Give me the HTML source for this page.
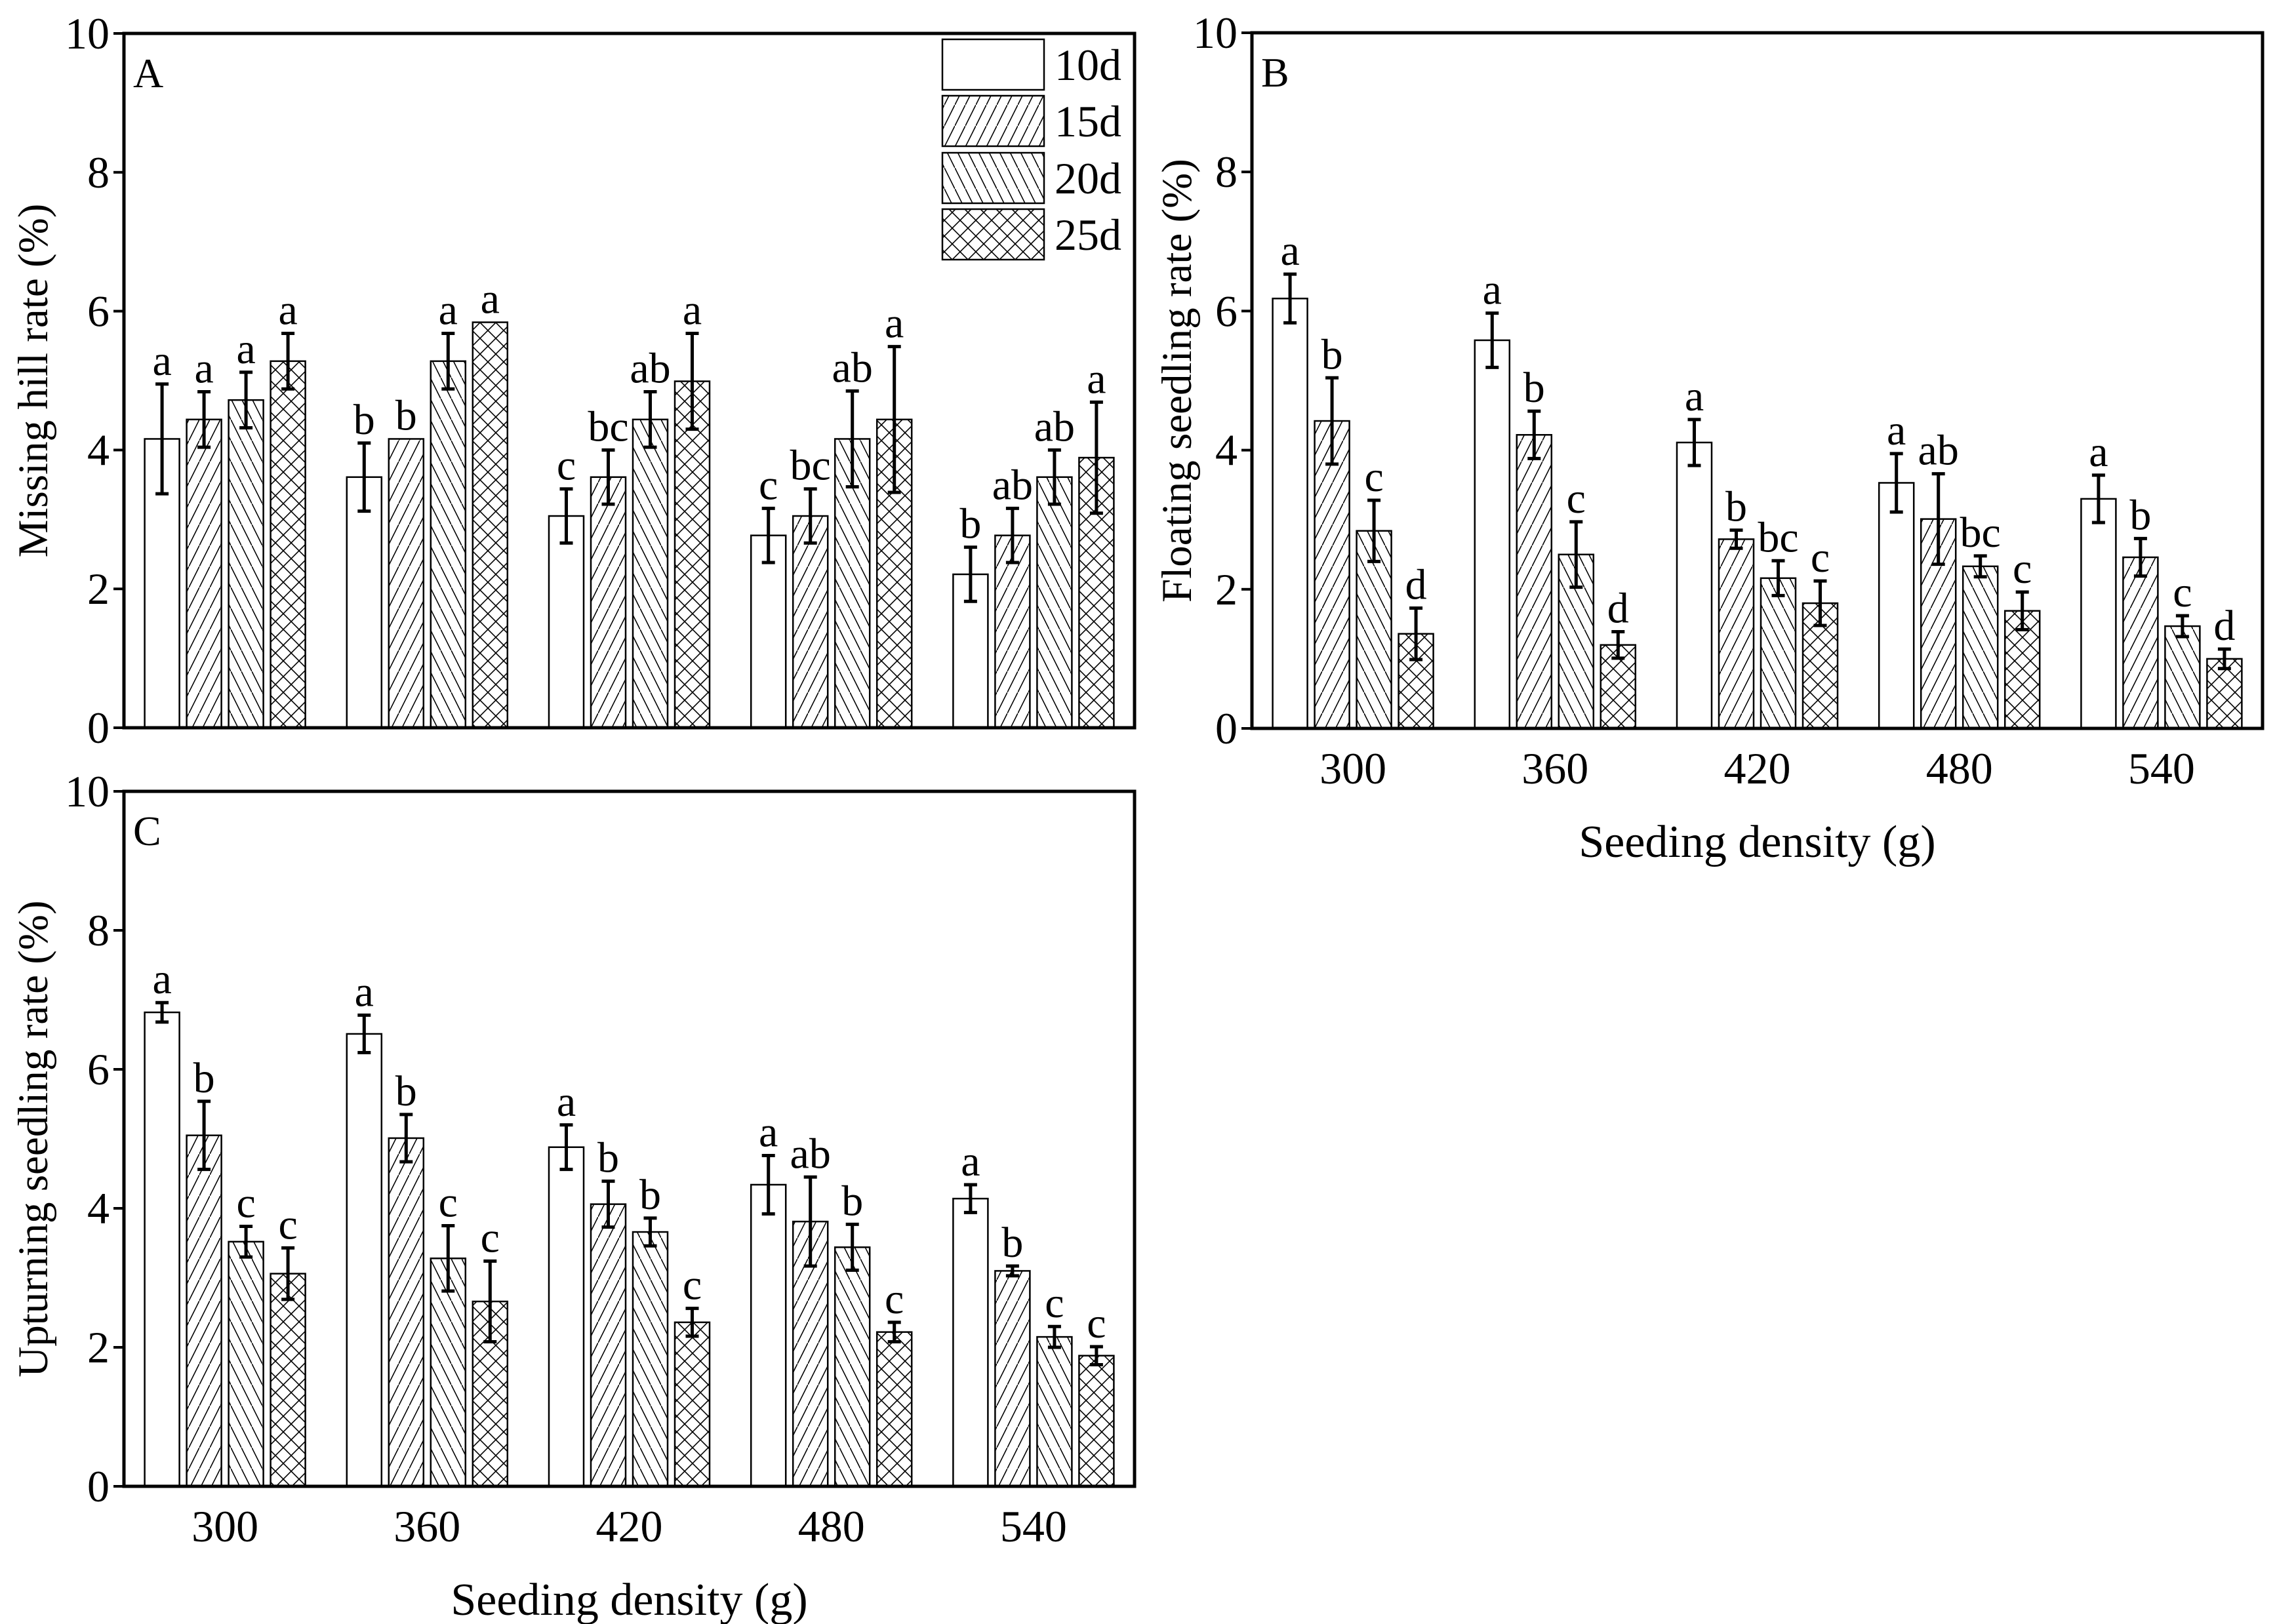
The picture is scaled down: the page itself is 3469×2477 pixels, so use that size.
<!DOCTYPE html>
<html><head><meta charset="utf-8">
<style>
html,body{margin:0;padding:0;background:#fff;}
svg{display:block;font-family:"Liberation Serif",serif;}
</style></head>
<body>
<svg id="chart" width="3469" height="2477" viewBox="0 0 3469 2477" xmlns="http://www.w3.org/2000/svg">
<defs>
<pattern id="p15" patternUnits="userSpaceOnUse" width="16" height="32"><line x1="0" y1="32" x2="16" y2="0" stroke="#000" stroke-width="1.6"/></pattern>
<pattern id="p20" patternUnits="userSpaceOnUse" width="16" height="32"><line x1="0" y1="0" x2="16" y2="32" stroke="#000" stroke-width="1.6"/></pattern>
<pattern id="p25" patternUnits="userSpaceOnUse" width="24" height="24"><line x1="0" y1="0" x2="24" y2="24" stroke="#000" stroke-width="1.6"/><line x1="0" y1="24" x2="24" y2="0" stroke="#000" stroke-width="1.6"/></pattern>
</defs>
</svg>
<script>
const categories = ["300","360","420","480","540"];
const seriesNames = ["10d","15d","20d","25d"];
const yTicks = [0,2,4,6,8,10];

const aValues = [[4.16,3.61,3.05,2.77,2.21],[4.44,4.16,3.61,3.05,2.77],[4.72,5.28,4.44,4.16,3.61],[5.28,5.84,4.99,4.44,3.89]];
const aErrors = [[0.79,0.49,0.39,0.39,0.39],[0.40,0,0.39,0.39,0.39],[0.40,0.40,0.40,0.69,0.39],[0.40,0,0.69,1.05,0.8]];
const aLetters = [["a","b","c","c","b"],["a","b","bc","bc","ab"],["a","a","ab","ab","ab"],["a","a","a","a","a"]];

const bValues = [[6.18,5.58,4.11,3.53,3.30],[4.42,4.22,2.72,3.01,2.46],[2.84,2.50,2.16,2.33,1.47],[1.36,1.20,1.80,1.69,1.00]];
const bErrors = [[0.35,0.39,0.33,0.42,0.34],[0.62,0.34,0.13,0.65,0.27],[0.44,0.47,0.25,0.15,0.15],[0.37,0.19,0.32,0.27,0.14]];
const bLetters = [["a","a","a","a","a"],["b","b","b","ab","b"],["c","c","bc","bc","c"],["d","d","c","c","d"]];

const cValues = [[6.82,6.51,4.88,4.34,4.14],[5.05,5.01,4.06,3.81,3.10],[3.52,3.28,3.66,3.44,2.15],[3.06,2.66,2.36,2.22,1.88]];
const cErrors = [[0.14,0.27,0.32,0.42,0.20],[0.49,0.34,0.33,0.64,0.07],[0.22,0.47,0.20,0.33,0.15],[0.37,0.58,0.20,0.14,0.13]];
const cLetters = [["a","a","a","a","a"],["b","b","b","ab","b"],["c","c","b","b","c"],["c","c","c","c","c"]];

const NS = "http://www.w3.org/2000/svg";
const svg = document.getElementById("chart");
const fills = ["#fff","url(#p15)","url(#p20)","url(#p25)"];
function el(tag, attrs, parent){const e=document.createElementNS(NS,tag);for(const k in attrs)e.setAttribute(k,attrs[k]);(parent||svg).appendChild(e);return e;}

function panel(id, L, T, R, B, values, errors, letters, yTitle, titleX, showX, legend){
  const g = el("g",{});
  
  
  const y = v => B - (v/10)*(B-T);
  const gw = (R-L)/categories.length;
  const xc = i => L + (i+0.5)*gw;
  const offs = [-96,-32,32,96], bw = 53;
  for(let s=0;s<4;s++){
    for(let i=0;i<categories.length;i++){
      const v = values[s][i], e = errors[s][i];
      const x0 = xc(i)+offs[s]-bw/2;
      const r = el("rect",{x:x0,y:y(v),width:bw,height:B-y(v),fill:fills[s],stroke:"#000","stroke-width":2.5},g);
      
      
      const cx = x0+bw/2;
      if(e>0){
        const eb = el("path",{d:`M${cx},${y(v+e)}V${y(v-e)}M${cx-10},${y(v+e)}H${cx+10}M${cx-10},${y(v-e)}H${cx+10}`,stroke:"#000","stroke-width":5,fill:"none"},g);
        
        
      }
      const t = el("text",{x:cx,y:y(v+e)-14,"font-size":66,"text-anchor":"middle"},g);
      t.textContent = letters[s][i];
      
      
    }
  }
  const f = el("rect",{x:L,y:T,width:R-L,height:B-T,fill:"none",stroke:"#000","stroke-width":5},g);
  
  
  for(const tv of yTicks){
    const tk = el("line",{x1:L-16,x2:L,y1:y(tv),y2:y(tv),stroke:"#000","stroke-width":4},g);
    
    
    const tl = el("text",{x:L-22,y:y(tv)+23,"font-size":68,"text-anchor":"end"},g);
    tl.textContent = tv;
    
    
  }
  const yt = el("text",{x:titleX,y:(T+B)/2,"font-size":65,"text-anchor":"middle",transform:`rotate(-90 ${titleX} ${(T+B)/2})`,dy:"22"},g);
  yt.textContent = yTitle;
  
  
  const pl = el("text",{x:L+14,y:T+82,"font-size":64},g);
  pl.textContent = id;
  
  
  if(showX){
    for(let i=0;i<categories.length;i++){
      const xl = el("text",{x:xc(i),y:B+84,"font-size":68,"text-anchor":"middle"},g);
      xl.textContent = categories[i];
      
      
    }
    const xt = el("text",{x:(L+R)/2,y:B+196,"font-size":70,"text-anchor":"middle"},g);
    xt.textContent = "Seeding density (g)";
    
    
  }
  if(legend){
    const lg = el("g",{},g);
    
    
    const tops=[60,146,233,319];
    for(let s=0;s<4;s++){
      const lr = el("rect",{x:1437,y:tops[s],width:155,height:77,fill:fills[s],stroke:"#000","stroke-width":2.5},lg);
      
      
      const lt = el("text",{x:1608,y:tops[s]+62,"font-size":68},lg);
      lt.textContent = seriesNames[s];
      
      
    }
  }
}
panel("A",189,51,1730,1110,aValues,aErrors,aLetters,"Missing hill rate (%)",50,false,true);
panel("B",1909,50,3450,1111,bValues,bErrors,bLetters,"Floating seedling rate (%)",1794,true,false);
panel("C",189,1207,1730,2267,cValues,cErrors,cLetters,"Upturning seedling rate (%)",50,true,false);
</script>
</body></html>
